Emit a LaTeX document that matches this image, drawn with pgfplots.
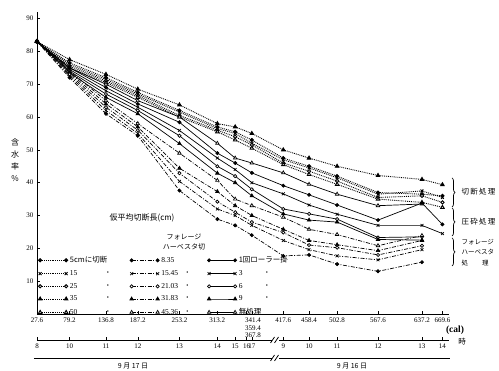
\documentclass[border=0pt]{standalone}
\usepackage{pgfplots}
\pgfplotsset{compat=1.18}
\usepackage{pgfplotstable}
\usepackage{fontspec}
\setmainfont{Liberation Serif}
\newfontfamily\cjk{Noto Sans CJK JP}
\usetikzlibrary{decorations.pathreplacing}

\pgfplotstableread{
t c35 c5 c15 c25 c50 r0 r1 r3 r6 r9 f45 f31 f21 f15 f8
27.6 83 83 83 83 83 83 83 83 83 83 83 83 83 83 83
79.2 77.5 76.5 76 75.5 75 75 75 74.5 74 73.5 74 73.5 73 72.5 72
136.8 73 72 71.5 71 70.5 70 69 68 67 66 65 64 63 62 61
187.2 68.5 67.5 67 66.5 66 65 64 63 62 61 58 57 56 55 54.3
253.2 63.7 62 61.5 60.5 60 60 58.4 55.9 54.3 51.9 49 44.4 42.9 40.4 37.6
313.2 58 57 56.5 56 55.5 52 49 47.5 45 42.9 40.7 37.3 34.2 32 28.9
341.4 57 55.5 55 54 53 47.5 46 44 42 40 35 33 31 30 27
367.8 55 53 52 51.5 50.5 46 43 40 38 36 33 30 28 27 24
417.6 50 47.5 47 46 45.5 43 39.1 36.6 32 30.5 29.5 25.8 24.8 22.4 17.7
458.4 47.5 45 44.5 43.5 42.5 39.5 36.3 33.2 30.5 28.6 25.8 22.4 21 19.6 18
502.8 45 42 41.5 40.5 39.5 36.5 33.2 30.4 28.9 28 24.2 21.1 20.2 17.7 15.2
567.6 42.2 37 36.5 35.5 35 33 28.6 27 23.3 22.7 20.8 19.3 18 16.5 13
637.2 41 36.5 37.5 36 34 33.5 33.8 27 23.5 22.5 23.9 22.4 20.8 19.6 15.8
669.6 39.4 36 35.5 34 32.5 nan 27.3 24.5 nan nan nan nan nan nan nan
}\data

\newcommand\ditto{\raisebox{0.3ex}{\fontsize{6}{6}\selectfont\textbullet}}

\pgfplotsset{
 cut/.style={black, densely dotted, line width=0.9pt},
 fh/.style={black, dash pattern=on 4pt off 1.5pt on 1pt off 1.5pt, line width=0.7pt},
 rol/.style={black, solid, line width=0.7pt},
 m1/.style={mark=*, mark size=1.6pt, mark options={solid, fill=black}},
 mx/.style={mark=x, mark size=2pt, mark options={solid}},
 mo/.style={mark=*, mark size=1.6pt, mark options={solid, fill=white}},
 mt/.style={mark=triangle*, mark size=2pt, mark options={solid, fill=black}},
 mT/.style={mark=triangle*, mark size=2pt, mark options={solid, fill=white}},
}

\begin{document}
\begin{tikzpicture}
\useasboundingbox (-37pt,-57pt) rectangle (462pt,314pt);
\begin{axis}[
 at={(0pt,0pt)}, anchor=south west,
 width=412pt, height=302pt, scale only axis,
 xmin=27.6, xmax=680, ymin=0, ymax=92,
 axis lines=left, axis line style={-, line width=0.9pt},
 xtick={27.6,79.2,136.8,187.2,253.2,313.2,341.4,359.4,367.8,417.6,458.4,502.8,567.6,637.2,669.6},
 xticklabels={27.6,79.2,136.8,187.2,253.2,313.2,{},{},{},417.6,458.4,502.8,567.6,637.2,669.6},
 ytick={10,20,30,40,50,60,70,80,90},
 tick style={black, thin}, major tick length=3pt, tick align=inside,
 ticklabel style={font=\fontsize{7}{8}\selectfont},
 /pgf/number format/assume math mode=true,
 clip=false,
 unbounded coords=jump,
 legend columns=3,
 legend cell align=left,
 legend image code/.code={\draw[#1, mark repeat=2, mark phase=1] plot coordinates {(0pt,0pt) (13pt,0pt) (26pt,0pt)};},
 legend style={draw=none, fill=none, at={(0.003,0.198)}, anchor=north west,
   font=\fontsize{7.5}{8}\selectfont, row sep=2.2pt, inner sep=0pt,
   /tikz/every even column/.append style={column sep=4pt}},
]
% legend (row-wise)
\addlegendimage{cut, m1}\addlegendentry{\makebox[54pt][l]{\cjk 5cmに切断}}
\addlegendimage{fh, m1}\addlegendentry{\makebox[40pt][l]{8.35}}
\addlegendimage{rol, m1}\addlegendentry{\cjk 1回ローラー掛}
\addlegendimage{cut, mx}\addlegendentry{\makebox[54pt][l]{\makebox[37pt][l]{15}\ditto}}
\addlegendimage{fh, mx}\addlegendentry{\makebox[40pt][l]{\makebox[25pt][l]{15.45}\ditto}}
\addlegendimage{rol, mx}\addlegendentry{\makebox[27pt][l]{3}\ditto}
\addlegendimage{cut, mo}\addlegendentry{\makebox[54pt][l]{\makebox[37pt][l]{25}\ditto}}
\addlegendimage{fh, mo}\addlegendentry{\makebox[40pt][l]{\makebox[25pt][l]{21.03}\ditto}}
\addlegendimage{rol, mo}\addlegendentry{\makebox[27pt][l]{6}\ditto}
\addlegendimage{cut, mt}\addlegendentry{\makebox[54pt][l]{\makebox[37pt][l]{35}\ditto}}
\addlegendimage{fh, mt}\addlegendentry{\makebox[40pt][l]{\makebox[25pt][l]{31.83}\ditto}}
\addlegendimage{rol, mt}\addlegendentry{\makebox[27pt][l]{9}\ditto}
\addlegendimage{cut, mT}\addlegendentry{\makebox[54pt][l]{\makebox[37pt][l]{50}\ditto}}
\addlegendimage{fh, mT}\addlegendentry{\makebox[40pt][l]{\makebox[25pt][l]{45.36}\ditto}}
\addlegendimage{rol, mT}\addlegendentry{\cjk 無処理}
% data
\addplot[cut, mt, forget plot] table[x=t, y=c35] {\data};
\addplot[cut, m1, forget plot] table[x=t, y=c5] {\data};
\addplot[cut, mx, forget plot] table[x=t, y=c15] {\data};
\addplot[cut, mo, forget plot] table[x=t, y=c25] {\data};
\addplot[cut, mT, forget plot] table[x=t, y=c50] {\data};
\addplot[rol, mT, forget plot] table[x=t, y=r0] {\data};
\addplot[rol, m1, forget plot] table[x=t, y=r1] {\data};
\addplot[rol, mx, forget plot] table[x=t, y=r3] {\data};
\addplot[rol, mo, forget plot] table[x=t, y=r6] {\data};
\addplot[rol, mt, forget plot] table[x=t, y=r9] {\data};
\addplot[fh, mT, forget plot] table[x=t, y=f45] {\data};
\addplot[fh, mt, forget plot] table[x=t, y=f31] {\data};
\addplot[fh, mo, forget plot] table[x=t, y=f21] {\data};
\addplot[fh, mx, forget plot] table[x=t, y=f15] {\data};
\addplot[fh, m1, forget plot] table[x=t, y=f8] {\data};
\end{axis}

% hour axis
\begin{axis}[
 at={(0pt,-26pt)}, anchor=south west,
 width=412pt, height=1pt, scale only axis,
 xmin=27.6, xmax=680, ymin=0, ymax=1,
 hide y axis, axis x line*=bottom, axis line style={-, line width=0.9pt},
 xtick={27.6,79.2,136.8,187.2,253.2,313.2,341.4,359.4,367.8,417.6,458.4,502.8,567.6,637.2,669.6},
 xticklabels={8,10,11,12,13,14,15,16,17,9,10,11,12,13,14},
 tick style={black, thin}, major tick length=3pt, tick align=inside,
 ticklabel style={font=\fontsize{7}{8}\selectfont},
 clip=false,
]
\end{axis}

% extra top tick labels
\begin{scope}[font=\fontsize{7}{8}\selectfont]
\node at (216pt,-6.5pt) {341.4};
\node at (216pt,-14pt) {359.4};
\node at (216pt,-21.5pt) {367.8};
\end{scope}
\node[font=\bfseries\fontsize{9.5}{10}\selectfont] at (418pt,-16pt) {(cal)};
\node[font=\cjk\fontsize{7.5}{8}\selectfont] at (425pt,-28pt) {時};

% break marks on hour line
\fill[white] (235pt,-29pt) rectangle (242pt,-23pt);
\draw[line width=0.7pt] (233.5pt,-29pt) -- (237.5pt,-23pt);
\draw[line width=0.7pt] (237.5pt,-29pt) -- (241.5pt,-23pt);
% day line
\draw[line width=0.9pt] (-3pt,-44pt) -- (413pt,-44pt);
\fill[white] (235pt,-47pt) rectangle (242pt,-41pt);
\draw[line width=0.7pt] (233.5pt,-47pt) -- (237.5pt,-41pt);
\draw[line width=0.7pt] (237.5pt,-47pt) -- (241.5pt,-41pt);
\node[font=\cjk\fontsize{7}{8}\selectfont] at (96pt,-52pt) {9\ 月\ 17\ 日};
\node[font=\cjk\fontsize{7}{8}\selectfont] at (315pt,-52pt) {9\ 月\ 16\ 日};

% y label
\node[font=\cjk\fontsize{8}{9}\selectfont, align=center] at (-22pt,154pt) {含\\[3pt]水\\[3pt]率\\[3pt]\%};

% annotations
\node[font=\cjk\fontsize{8}{9}\selectfont] at (105pt,96pt) {仮平均切断長(cm)};
\node[font=\cjk\fontsize{7}{8}\selectfont] at (147pt,77pt) {フォレージ};
\node[font=\cjk\fontsize{7}{8}\selectfont] at (147pt,67pt) {ハーベスタ切};

% braces and group labels
\draw[line width=0.7pt, decorate, decoration={brace, amplitude=3pt}] (415pt,136pt) -- (415pt,107pt);
\draw[line width=0.7pt, decorate, decoration={brace, amplitude=3pt}] (415pt,106pt) -- (415pt,78pt);
\draw[line width=0.7pt, decorate, decoration={brace, amplitude=3pt}] (415pt,76pt) -- (415pt,48pt);
\node[font=\cjk\fontsize{7.5}{8}\selectfont, anchor=west] at (421pt,122pt) {切\,断\,処\,理};
\node[font=\cjk\fontsize{7.5}{8}\selectfont, anchor=west] at (421pt,92pt) {圧\,砕\,処\,理};
\node[font=\cjk\fontsize{6.5}{7}\selectfont, anchor=west] at (421pt,72pt) {フォレージ};
\node[font=\cjk\fontsize{6.5}{7}\selectfont, anchor=west] at (421pt,62pt) {ハーベスタ};
\node[font=\cjk\fontsize{6.5}{7}\selectfont, anchor=west] at (421pt,51pt) {処\hspace{14pt}理};
\end{tikzpicture}
\end{document}
